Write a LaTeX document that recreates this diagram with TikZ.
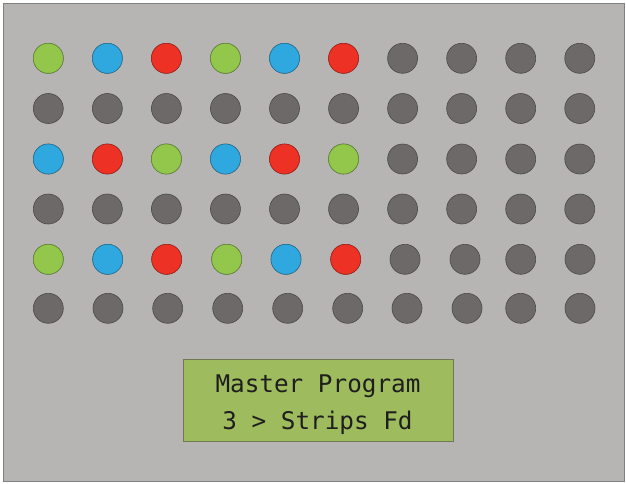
\documentclass[tikz,border=0pt]{standalone}
\usepackage{fontspec}
\newfontfamily\lcdfont{DejaVu Sans Mono}
\definecolor{bgc}{HTML}{B7B5B3}
\definecolor{ledg}{HTML}{92C74B}
\definecolor{ledb}{HTML}{2FA8DF}
\definecolor{ledr}{HTML}{EE3125}
\definecolor{ledk}{HTML}{6C6968}
\definecolor{lcdc}{HTML}{9EBB5E}
\definecolor{lcdline}{HTML}{6F7A52}
\definecolor{framec}{HTML}{7F7F7F}
\definecolor{txtc}{HTML}{1E1E1E}
\tikzset{
  led/.style={circle, minimum size=30pt, inner sep=0pt, draw=#1!70!black, line width=0.6pt, fill=#1},
  lcdtext/.style={font=\lcdfont\fontsize{24.3pt}{28pt}\selectfont, text=txtc, anchor=base, inner sep=0pt}
}
\begin{document}
\begin{tikzpicture}[x=1pt,y=-1pt]
\useasboundingbox (0,0) rectangle (626,483);
\fill[white] (0,0) rectangle (626,483);
\draw[framec, line width=1.2pt, fill=bgc] (3.5,3.5) rectangle (624.5,481.5) node[pos=0, inner sep=0pt] (frame) {};
% rows 1-4
\foreach \r/\y in {1/58.3,2/108.5,3/159,4/209}{
  \foreach \i in {1,...,10}{
    \pgfmathsetmacro{\xx}{48.3+59.05*(\i-1)}
    \node[led=ledk] (l\r-\i) at (\xx,\y) {};
  }
}
% row 5
\foreach \x [count=\i] in {48.3,107.7,166.7,226.7,286,345.7,405,465,520.7,580}{
  \node[led=ledk] (l5-\i) at (\x,259.3) {};
}
% row 6
\foreach \x [count=\i] in {48.3,108,167.7,227.7,287.7,347.7,407,467,520.7,580}{
  \node[led=ledk] (l6-\i) at (\x,308.3) {};
}
% coloured LEDs
\foreach \i/\c in {1/ledg,2/ledb,3/ledr,4/ledg,5/ledb,6/ledr}{
  \node[led=\c] at (l1-\i) {};
  \node[led=\c] at (l5-\i) {};
}
\foreach \i/\c in {1/ledb,2/ledr,3/ledg,4/ledb,5/ledr,6/ledg}{
  \node[led=\c] at (l3-\i) {};
}
% LCD
\draw[lcdline, line width=0.8pt, fill=lcdc] (183.3,359.3) rectangle (453.3,441) node[pos=0.5, inner sep=0pt] (lcd) {};
\node[lcdtext] (line1) at (318,392.7) {Master Program};
\node[lcdtext] (line2) at (317.5,429.3) {3 > Strips Fd};
\end{tikzpicture}
\end{document}
